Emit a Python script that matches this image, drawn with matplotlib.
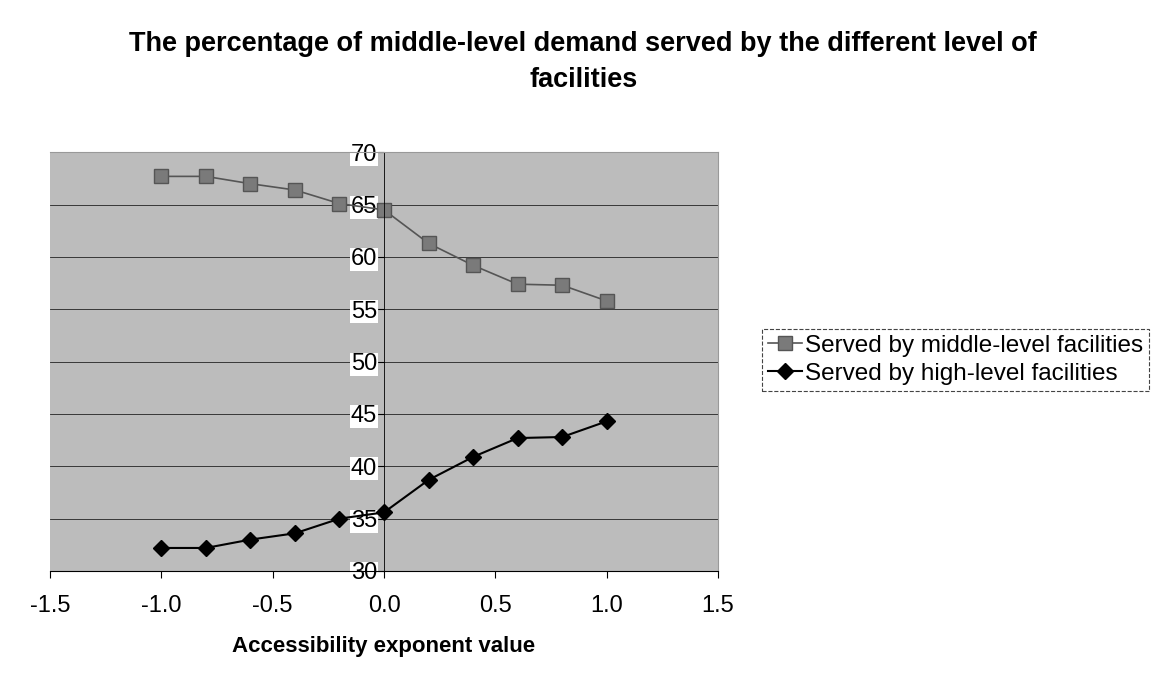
import matplotlib.pyplot as plt

plt.rcParams['font.family'] = ['Liberation Sans', 'DejaVu Sans']

exponent = [-1.0, -0.8, -0.6, -0.4, -0.2, 0.0, 0.2, 0.4, 0.6, 0.8, 1.0]
middle = [67.7, 67.7, 67.0, 66.4, 65.1, 64.5, 61.3, 59.2, 57.4, 57.3, 55.8]
high = [32.2, 32.2, 33.0, 33.6, 35.0, 35.6, 38.7, 40.9, 42.7, 42.8, 44.3]

fig = plt.figure(figsize=(11.62, 6.83), dpi=100)
ax = fig.add_axes([0.043, 0.164, 0.575, 0.613])
ax.set_facecolor('#bcbcbc')

ax.plot(exponent, middle, color='#555555', lw=1.2, marker='s', ms=10,
        mfc='#7a7a7a', mec='#555555', label='Served by middle-level facilities')
ax.plot(exponent, high, color='black', lw=1.5, marker='D', ms=8.5,
        mfc='black', mec='black', label='Served by high-level facilities')

ax.set_xlim(-1.5, 1.5)
ax.set_ylim(30, 70)
ax.set_xticks([-1.5, -1.0, -0.5, 0.0, 0.5, 1.0, 1.5])
ax.set_xticklabels(['-1.5', '-1.0', '-0.5', '0.0', '0.5', '1.0', '1.5'])
ax.set_yticks(range(30, 71, 5))
ax.yaxis.grid(True, color='#222222', lw=0.6)
ax.set_axisbelow(True)

ax.spines['left'].set_position(('data', 0))
ax.spines['left'].set_linewidth(0.6)
ax.spines['bottom'].set_linewidth(0.8)
ax.spines['top'].set_color('#999999')
ax.spines['right'].set_color('#999999')
ax.tick_params(axis='x', direction='out', length=5, labelsize=17, pad=12)
ax.tick_params(axis='y', direction='out', length=4, labelsize=17, pad=1)
for t in ax.get_yticklabels():
    t.set_bbox(dict(facecolor='white', edgecolor='none', pad=0.3))

ax.set_xlabel('Accessibility exponent value', fontsize=16, fontweight='bold', labelpad=14)

fig.text(0.502, 0.909, 'The percentage of middle-level demand served by the different level of\nfacilities',
         ha='center', va='center', fontsize=19.5, fontweight='bold', linespacing=1.5)

leg = fig.legend(loc='center left', bbox_to_anchor=(0.656, 0.473), fontsize=17.5,
                 fancybox=False, framealpha=1, edgecolor='#444444', borderpad=0.25,
                 borderaxespad=0, handlelength=1.4, handletextpad=0.1, labelspacing=0.25)
leg.get_frame().set_linestyle('--')
leg.get_frame().set_linewidth(0.8)

fig.savefig('out.png', dpi=100)
